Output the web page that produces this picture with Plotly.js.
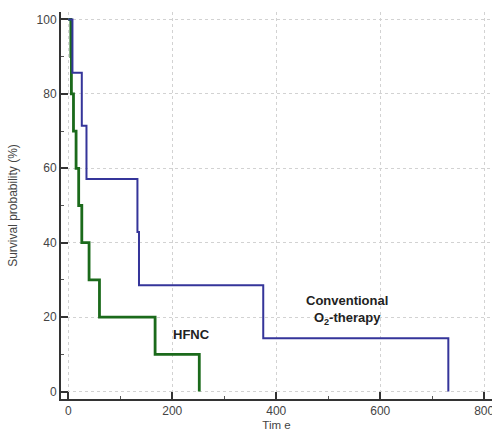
<!DOCTYPE html>
<html>
<head>
<meta charset="utf-8">
<script src="https://cdn.plot.ly/plotly-3.0.1.min.js"></script>
<style>html,body{margin:0;padding:0;background:#fff;}#chart{width:492px;height:431px;}</style>
</head>
<body>
<div id="chart"></div>
<script>
// Conventional O2-therapy (Kaplan-Meier)
const convTime = [0, 8, 26, 35, 133, 136, 375, 731];
const convSurv = [100, 85.7, 71.4, 57.1, 42.9, 28.6, 14.3, 0];
// HFNC (Kaplan-Meier)
const hfncTime = [0, 5, 6, 10, 15, 20, 26, 40, 60, 167, 252];
const hfncSurv = [100, 90, 80, 70, 60, 50, 40, 30, 20, 10, 0];

const xTicks = [0, 200, 400, 600, 800];
const yTicks = [0, 20, 40, 60, 80, 100];

const labelHFNC = "HFNC";
const labelConv = "Conventional<br>O<sub>2</sub>-therapy";

const traces = [
  {x: hfncTime, y: hfncSurv, type: 'scatter', mode: 'lines', line: {shape: 'hv', color: '#1b6a1b', width: 2.8}, hoverinfo: 'skip'},
  {x: convTime, y: convSurv, type: 'scatter', mode: 'lines', line: {shape: 'hv', color: '#35359a', width: 2}, hoverinfo: 'skip'}
];

const axisCommon = {
  showline: true, linecolor: '#333', linewidth: 2,
  ticks: 'inside', ticklen: 7, tickwidth: 2, tickcolor: '#333',
  showgrid: true, gridcolor: '#d2d2d2', griddash: 'dot', gridwidth: 1,
  zeroline: false, mirror: false,
  ticklabeloverflow: 'allow',
  tickfont: {family: 'Liberation Sans, Arial, sans-serif', size: 12, color: '#444'}
};

const layout = {
  width: 492, height: 431,
  margin: {l: 61, r: 0, t: 12, b: 32},
  paper_bgcolor: '#fff', plot_bgcolor: '#fff',
  showlegend: false,
  xaxis: Object.assign({}, axisCommon, {
    range: [-14, 815], tickvals: xTicks, ticktext: xTicks.map(String),
    minor: {dtick: 100, tick0: 0, ticks: 'inside', ticklen: 3, tickwidth: 1, tickcolor: '#555', showgrid: false},
    title: {text: 'Tim e', font: {family: 'Liberation Sans, Arial, sans-serif', size: 11.5, color: '#444'}, standoff: 4}
  }),
  yaxis: Object.assign({}, axisCommon, {
    range: [-2, 102], tickvals: yTicks, ticktext: yTicks.map(String),
    minor: {dtick: 10, tick0: 0, ticks: 'inside', ticklen: 3, tickwidth: 1, tickcolor: '#555', showgrid: false},
    title: {text: 'Survival probability (%)', font: {family: 'Liberation Sans, Arial, sans-serif', size: 12, color: '#444'}, standoff: 16}
  }),
  annotations: [
    {x: 237, y: 15.3, xref: 'x', yref: 'y', text: labelHFNC, showarrow: false,
     font: {family: 'Liberation Sans, Arial, sans-serif', size: 13, color: '#222', weight: 'bold'}},
    {x: 537, y: 21.8, xref: 'x', yref: 'y', text: labelConv, showarrow: false,
     font: {family: 'Liberation Sans, Arial, sans-serif', size: 13, color: '#222', weight: 'bold'}}
  ]
};

Plotly.newPlot('chart', traces, layout, {staticPlot: true, displayModeBar: false});
</script>
</body>
</html>
